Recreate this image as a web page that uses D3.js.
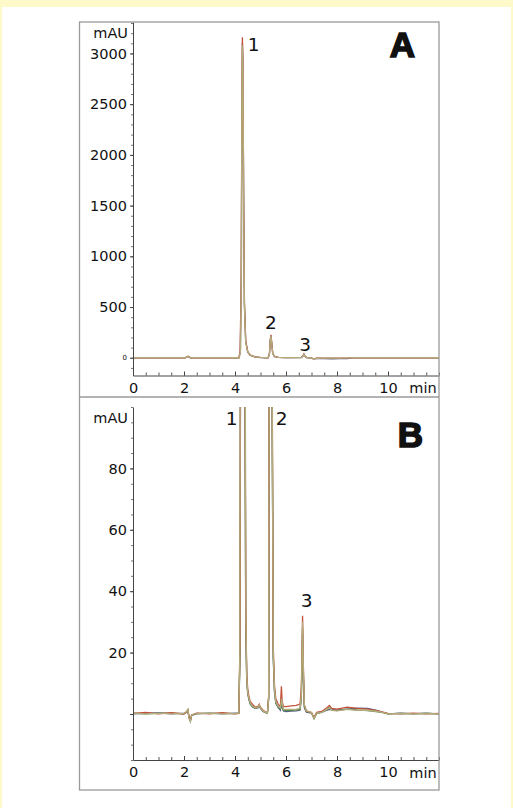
<!DOCTYPE html>
<html>
<head>
<meta charset="utf-8">
<script src="https://d3js.org/d3.v7.min.js"></script>
<style>
  body { margin: 0; background: #fef9c8; }
  svg { display: block; }
  .ax text { font-family: "DejaVu Sans", Verdana, sans-serif; fill: #111; font-size: 14.5px; }
  .ax text.zero { font-size: 7px; }
</style>
</head>
<body>
<svg id="canvas" width="513" height="808"></svg>
<script>
// ---- data (time in min, signal in mAU) ----
const aRed = [[0,0],[2.05,0],[2.12,10],[2.18,12],[2.25,0],[4.15,0],[4.2,60],[4.24,700],[4.27,2500],[4.29,3160],[4.31,2950],[4.34,1600],[4.37,550],[4.42,170],[4.5,60],[4.6,25],[4.8,8],[5.0,3],[5.3,0],[5.35,40],[5.38,170],[5.41,225],[5.44,150],[5.48,45],[5.55,12],[5.7,4],[6.0,2],[6.6,3],[6.66,18],[6.7,38],[6.74,16],[6.8,4],[7.0,-4],[7.1,-10],[7.2,-5],[7.5,-3],[8.0,-3],[8.5,-2],[8.7,0],[12,0]];
const aSlate = [[0,0],[2.05,0],[2.12,11],[2.18,13],[2.25,0],[4.16,0],[4.21,70],[4.25,850],[4.27,2550],[4.29,3100],[4.31,2900],[4.34,1550],[4.37,520],[4.42,160],[4.5,55],[4.6,22],[4.8,7],[5.0,2],[5.3,0],[5.35,35],[5.38,160],[5.41,218],[5.44,145],[5.48,42],[5.55,11],[5.7,3],[6.0,1],[6.6,2],[6.66,15],[6.7,33],[6.74,14],[6.8,2],[7.0,-5],[7.1,-11],[7.2,-7],[7.5,-8],[7.8,-10],[8.1,-9],[8.4,-8],[8.6,-1],[12,0]];
const aKhaki = [[0,0],[2.05,0],[2.12,12],[2.18,14],[2.25,0],[4.17,0],[4.22,80],[4.25,900],[4.27,2600],[4.29,3080],[4.31,2900],[4.34,1500],[4.37,500],[4.42,150],[4.5,60],[4.6,25],[4.8,8],[5.0,3],[5.3,0],[5.35,30],[5.38,150],[5.41,215],[5.44,140],[5.48,40],[5.55,12],[5.7,4],[6.0,2],[6.6,2],[6.66,15],[6.7,35],[6.74,15],[6.8,3],[7.0,-5],[7.1,-12],[7.2,-6],[7.4,-3],[7.6,-2],[8.0,-4],[8.5,-2],[8.6,0],[12,0]];

const bRed = [[0,0.2],[0.5,0.5],[1,0],[1.5,0.4],[2.0,0],[2.1,0.6],[2.15,1.2],[2.2,-1],[2.25,-2],[2.3,-0.3],[2.5,0.3],[3,0],[3.5,0.4],[4.0,0],[4.15,0.2],[4.2,25],[4.22,160],[4.3,420],[4.38,170],[4.42,35],[4.46,13],[4.5,8],[4.55,5.5],[4.6,4],[4.7,3],[4.8,2.2],[4.9,2.5],[4.95,3.2],[5.0,2.2],[5.1,1.2],[5.2,0.6],[5.27,0.4],[5.32,6],[5.34,130],[5.4,420],[5.46,110],[5.5,22],[5.55,9],[5.6,5],[5.7,3],[5.78,2.5],[5.82,9],[5.85,4],[5.9,2.5],[6.0,2.4],[6.2,2.6],[6.4,2.8],[6.55,3.2],[6.6,8],[6.63,22],[6.65,32],[6.68,16],[6.72,3],[6.8,1],[7.0,0.5],[7.1,-1.2],[7.2,0.5],[7.4,0.8],[7.6,2],[7.7,2.8],[7.8,1.8],[8.0,1.6],[8.4,2.2],[8.8,1.8],[9.2,1.6],[9.6,1],[9.8,0.6],[10,0.2],[10.5,0],[11,0.3],[11.5,0],[12,0.2]];
const bSlate = [[0,0],[0.5,0.2],[1,0.4],[1.5,0],[2.0,0.3],[2.1,0.5],[2.15,1],[2.2,-1.2],[2.25,-2.2],[2.3,-0.5],[2.5,0],[3,0.3],[3.5,0],[4.0,0.3],[4.15,0.2],[4.2,22],[4.22,150],[4.3,400],[4.38,160],[4.42,32],[4.46,11],[4.5,6.5],[4.55,4.5],[4.6,3.2],[4.7,2.2],[4.8,1.8],[4.9,2],[4.95,2.6],[5.0,1.8],[5.1,0.8],[5.2,0.4],[5.27,0.2],[5.32,5],[5.34,115],[5.4,400],[5.46,95],[5.5,18],[5.55,7],[5.6,3.5],[5.7,2],[5.78,1.2],[5.82,3.5],[5.85,2],[5.9,1],[6.0,0.8],[6.2,0.9],[6.4,1],[6.55,1.2],[6.6,5],[6.63,16],[6.65,26],[6.68,12],[6.72,2],[6.8,0.6],[7.0,0.3],[7.1,-1.5],[7.2,0.2],[7.4,0.5],[7.6,1.2],[7.7,1.5],[7.8,1.3],[8.0,1.3],[8.4,1.6],[8.8,1.9],[9.2,1.8],[9.6,1.1],[9.8,0.5],[10,0],[10.5,0.3],[11,0],[11.5,0.3],[12,0]];
const bGreen = [[0,0.3],[0.5,0],[1,0.2],[1.5,0.3],[2.0,0],[2.1,0.7],[2.15,1.4],[2.2,-1.3],[2.25,-2.4],[2.3,-0.4],[2.5,0.2],[3,0.2],[3.5,0.2],[4.0,0.1],[4.15,0.3],[4.2,21],[4.22,150],[4.3,400],[4.38,150],[4.42,30],[4.46,11],[4.5,7],[4.55,4.8],[4.6,3.3],[4.7,2.3],[4.8,1.9],[4.9,2.1],[4.95,2.8],[5.0,1.9],[5.1,0.9],[5.2,0.4],[5.27,0.3],[5.32,5],[5.34,115],[5.4,400],[5.46,95],[5.5,19],[5.55,7.5],[5.6,3.8],[5.7,2.2],[5.78,1.6],[5.82,4.5],[5.85,2.5],[5.9,1.2],[6.0,1.2],[6.2,1.1],[6.4,1.3],[6.55,1.5],[6.6,5.5],[6.63,18],[6.65,28],[6.68,13],[6.72,2.5],[6.8,0.8],[7.0,0.4],[7.1,-1.4],[7.2,0.2],[7.4,0.6],[7.6,1.4],[7.7,2.2],[7.8,1.3],[8.0,1.1],[8.4,1.6],[8.8,1.3],[9.2,1.1],[9.6,0.7],[9.8,0.4],[10,0],[10.5,0.2],[11,0.1],[11.5,0.2],[12,0]];
const bKhaki = [[0,0.3],[0.5,0],[1,0.3],[1.5,0],[2.0,0.2],[2.1,0.8],[2.15,1.5],[2.2,-1.5],[2.25,-2.5],[2.3,-0.5],[2.4,0],[3,0.3],[3.5,0],[4.0,0.2],[4.15,0.3],[4.19,20],[4.21,150],[4.3,400],[4.39,150],[4.43,30],[4.46,12],[4.5,7],[4.55,5],[4.6,3.5],[4.7,2.5],[4.8,2],[4.9,2.2],[4.95,3],[5.0,2],[5.1,1],[5.2,0.5],[5.27,0.3],[5.32,5],[5.34,120],[5.4,400],[5.46,100],[5.5,20],[5.55,8],[5.6,4],[5.7,2.5],[5.78,2],[5.83,5],[5.86,3],[5.9,1.5],[6.0,1.5],[6.2,1.5],[6.4,1.6],[6.55,1.8],[6.6,6],[6.63,20],[6.65,30],[6.68,15],[6.72,3],[6.8,1],[7.0,0.5],[7.1,-1.5],[7.2,0.3],[7.4,0.5],[7.6,1.5],[7.7,2],[7.8,1.2],[8.0,1],[8.4,1.5],[8.8,1.2],[9.2,1.2],[9.6,0.8],[9.8,0.5],[10,0],[10.5,0.2],[11,0],[11.5,0.2],[12,0]];

const xMajor = [0, 2, 4, 6, 8, 10];
const xMinor = d3.range(0, 12.01, 0.5);
const yMajorA = [0, 500, 1000, 1500, 2000, 2500, 3000];
const yMinorA = d3.range(-100, 3301, 100);
const yMajorB = [0, 20, 40, 60, 80];
const yMinorB = d3.range(-15, 101, 5);

// peak labels: anchor (time, signal) where the label's baseline sits
const peaksA = [{label: "1", t: 4.73, v: 3025}, {label: "2", t: 5.41, v: 280}, {label: "3", t: 6.75, v: 65}];
const peaksB = [{label: "1", t: 3.87, v: 94}, {label: "2", t: 5.83, v: 94}, {label: "3", t: 6.81, v: 34.8}];

const colors = {red: "#c4513c", slate: "#5a5f8c", green: "#58874a", khaki: "#b3ad7c"};

const svg = d3.select("#canvas");

// white sheet
svg.append("rect").attr("x", 2).attr("y", 7).attr("width", 509).attr("height", 801).attr("fill", "#fff");

const panel = (cfg) => {
  const x = d3.scaleLinear().domain([0, 12]).range([133, 439]);
  const y = d3.scaleLinear().domain(cfg.yDomain).range([cfg.bottom, cfg.top]);
  const g = svg.append("g");

  const clipId = "clip" + cfg.name;
  g.append("clipPath").attr("id", clipId)
    .append("rect").attr("x", 133).attr("y", cfg.top).attr("width", 306).attr("height", cfg.bottom - cfg.top);

  const line = d3.line().x(d => x(d[0])).y(d => y(d[1]));
  const lines = g.append("g").attr("clip-path", `url(#${clipId})`);
  cfg.series.forEach(s => {
    lines.append("path").datum(s.data)
      .attr("fill", "none")
      .attr("stroke", s.color)
      .attr("stroke-width", 1.3)
      .attr("d", line);
  });

  // y axis: minor then major
  g.append("g").attr("transform", "translate(133,0)")
    .call(d3.axisLeft(y).tickValues(cfg.yMinor).tickSize(2).tickFormat(""))
    .call(a => a.select(".domain").remove())
    .selectAll("line").attr("stroke", "#777");
  const ya = g.append("g").attr("class", "ax").attr("transform", "translate(133,0)")
    .call(d3.axisLeft(y).tickValues(cfg.yMajor).tickSize(3).tickSizeOuter(0).tickPadding(3)
      .tickFormat(d => (d === 0 && !cfg.zeroLabel) ? "" : d));
  ya.attr("font-size", null).attr("font-family", null);
  ya.select(".domain").attr("stroke", "#444");
  ya.selectAll("line").attr("stroke", "#444");
  ya.selectAll("text").classed("zero", d => d === 0);

  // x axis, ticks pointing up into the plot
  g.append("g").attr("transform", `translate(0,${cfg.bottom})`)
    .call(d3.axisBottom(x).tickValues(xMinor).tickSize(-3).tickFormat(""))
    .call(a => a.select(".domain").remove())
    .selectAll("line").attr("stroke", "#555");
  const xa = g.append("g").attr("class", "ax").attr("transform", `translate(0,${cfg.bottom})`)
    .call(d3.axisBottom(x).tickValues(xMajor).tickSize(-4).tickSizeOuter(0).tickPadding(7));
  xa.attr("font-size", null).attr("font-family", null);
  xa.select(".domain").attr("stroke", "#444");
  xa.selectAll("line").attr("stroke", "#444");

  g.append("text").attr("x", 423).attr("y", cfg.bottom + 17.5).attr("text-anchor", "middle")
    .style("font-family", "DejaVu Sans, Verdana, sans-serif").style("font-size", "14.5px").attr("fill", "#111")
    .text("min");
  g.append("text").attr("x", 128).attr("y", cfg.top + cfg.unitDy).attr("text-anchor", "end")
    .style("font-family", "DejaVu Sans, Verdana, sans-serif").style("font-size", "14.5px").attr("fill", "#111")
    .text("mAU");

  g.selectAll(".peak").data(cfg.peaks).join("text")
    .attr("x", d => x(d.t))
    .attr("y", d => y(d.v))
    .attr("text-anchor", "middle")
    .style("font-family", "DejaVu Sans, Verdana, sans-serif").style("font-size", "18.5px").attr("fill", "#111")
    .text(d => d.label);

  g.append("text").attr("x", cfg.letterX).attr("y", cfg.letterY).attr("text-anchor", "middle")
    .style("font-family", "Liberation Sans, Arial, sans-serif").style("font-weight", "bold").style("font-size", "35px")
    .attr("fill", "#111").attr("stroke", "#111").attr("stroke-width", 1.6)
    .text(cfg.name);
};

panel({
  name: "A", top: 22, bottom: 375.5, yDomain: [-175, 3310],
  yMajor: yMajorA, yMinor: yMinorA, zeroLabel: true, unitDy: 16,
  letterX: 402.5, letterY: 56.5,
  peaks: peaksA,
  series: [
    {data: aSlate, color: colors.slate},
    {data: aRed, color: colors.red},
    {data: aKhaki, color: colors.khaki}
  ]
});

panel({
  name: "B", top: 407, bottom: 760, yDomain: [-15, 100],
  yMajor: yMajorB, yMinor: yMinorB, zeroLabel: false, unitDy: 16,
  letterX: 410.5, letterY: 446.5,
  peaks: peaksB,
  series: [
    {data: bSlate, color: colors.slate},
    {data: bGreen, color: colors.green},
    {data: bRed, color: colors.red},
    {data: bKhaki, color: colors.khaki}
  ]
});

// frames around both panels
svg.append("rect").attr("x", 79.5).attr("y", 22).attr("width", 359.5).attr("height", 768)
  .attr("fill", "none").attr("stroke", "#9a9a9a").attr("stroke-width", 1.3);
svg.append("line").attr("x1", 79.5).attr("x2", 439).attr("y1", 397).attr("y2", 397)
  .attr("stroke", "#9a9a9a").attr("stroke-width", 1.3);
</script>
</body>
</html>
